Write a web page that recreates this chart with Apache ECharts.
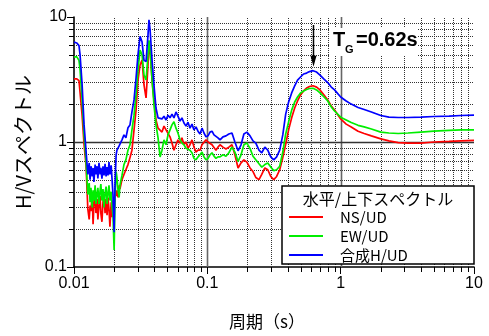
<!DOCTYPE html>
<html>
<head>
<meta charset="utf-8">
<script src="https://cdn.jsdelivr.net/npm/echarts@6/dist/echarts.min.js"></script>
<style>
html,body{margin:0;padding:0;background:#fff;}
#chart{width:489px;height:336px;}
</style>
</head>
<body>
<div id="chart"></div>
<script>
// ---- data ----
const periods = [
0.0100,0.0105,0.0109,0.0111,0.0115,0.0119,0.0123,0.0127,0.0130,0.0132,
0.0134,0.0137,0.0139,0.0141,0.0144,0.0146,0.0149,0.0151,0.0154,0.0157,
0.0159,0.0162,0.0165,0.0168,0.0171,0.0174,0.0177,0.0180,0.0183,0.0186,
0.0190,0.0193,0.0196,0.0200,0.0203,0.0207,0.0210,0.0214,0.0218,0.0221,
0.0229,0.0237,0.0245,0.0254,0.0263,0.0272,0.0282,0.0292,0.0302,0.0313,
0.0324,0.0335,0.0347,0.0359,0.0365,0.0372,0.0385,0.0398,0.0412,0.0427,
0.0442,0.0457,0.0473,0.0490,0.0507,0.0525,0.0543,0.0562,0.0582,0.0602,
0.0624,0.0645,0.0668,0.0692,0.0716,0.0741,0.0767,0.0794,0.0822,0.0851,
0.0881,0.0912,0.0944,0.0977,0.1012,0.1047,0.1084,0.1122,0.1161,0.1202,
0.1245,0.1310,0.1380,0.1450,0.1530,0.1610,0.1700,0.1790,0.1880,0.1980,
0.2090,0.2200,0.2310,0.2440,0.2560,0.2700,0.2840,0.2990,0.3150,0.3310,
0.3490,0.3680,0.3870,0.4070,0.4290,0.4520,0.4750,0.5000,0.5270,0.5550,
0.5840,0.6200,0.6600,0.7000,0.7500,0.8000,0.8500,0.9000,1.0,1.1,
1.2,1.35,1.5,1.7,2.0,2.3,2.7,3.2,4.0,5.0,
6.5,8.0,10.0
];
const nsUD = [
3.2,3.2,3.1,2.5,1.64,0.95,0.66,0.29,0.24,0.31,
0.28,0.38,0.22,0.31,0.40,0.27,0.35,0.24,0.31,0.37,
0.27,0.23,0.33,0.38,0.27,0.35,0.26,0.36,0.29,0.21,
0.33,0.25,0.34,0.28,0.36,0.38,0.41,0.36,0.45,0.42,
0.50,0.55,0.60,0.66,0.75,0.86,1.25,1.80,3.13,4.13,
4.53,2.86,2.25,4.13,6.0,5.44,3.13,2.17,1.50,1.29,
1.32,1.20,1.34,1.25,1.29,1.10,0.98,0.86,0.95,1.04,
0.98,1.08,0.95,1.00,0.89,0.95,1.04,0.91,0.83,0.86,
0.86,0.95,0.98,1.04,1.00,1.00,0.95,0.93,0.86,0.91,
0.95,0.91,0.88,0.91,0.95,0.79,0.62,0.68,0.72,0.69,
0.62,0.58,0.52,0.50,0.55,0.62,0.60,0.53,0.50,0.53,
0.60,0.75,0.96,1.25,1.56,1.87,2.13,2.38,2.56,2.70,
2.78,2.82,2.75,2.61,2.38,2.17,1.94,1.80,1.53,1.39,
1.32,1.22,1.17,1.12,1.06,1.02,0.99,0.98,0.98,1.00,
1.01,1.02,1.03
];
const ewUD = [
4.8,4.8,4.5,3.8,2.17,1.14,0.72,0.38,0.47,0.33,
0.43,0.30,0.41,0.34,0.45,0.32,0.39,0.43,0.32,0.41,
0.46,0.34,0.42,0.30,0.39,0.44,0.32,0.39,0.45,0.34,
0.40,0.30,0.26,0.137,0.34,0.58,0.52,0.41,0.36,0.45,
0.54,0.66,0.72,0.86,0.95,1.25,1.64,2.38,3.77,5.44,
4.97,3.44,3.13,4.97,6.5,5.6,3.13,1.98,1.37,1.08,
0.76,0.86,1.04,0.95,1.14,1.25,1.37,1.45,1.29,1.18,
1.04,0.98,0.95,0.89,0.92,0.86,0.82,0.74,0.72,0.76,
0.79,0.83,0.76,0.72,0.74,0.79,0.82,0.77,0.74,0.76,
0.76,0.79,0.77,0.82,0.91,0.83,0.70,0.79,0.95,0.98,
0.89,0.77,0.72,0.67,0.63,0.66,0.68,0.63,0.59,0.60,
0.64,0.83,1.16,1.45,1.80,2.09,2.29,2.47,2.56,2.63,
2.68,2.69,2.61,2.47,2.29,2.13,1.91,1.77,1.58,1.50,
1.43,1.36,1.32,1.27,1.20,1.18,1.17,1.18,1.20,1.22,
1.24,1.25,1.25
];
const hUD = [
6.3,6.2,5.9,5.0,2.9,1.37,0.86,0.55,0.68,0.50,
0.64,0.53,0.62,0.48,0.66,0.55,0.64,0.51,0.68,0.55,
0.62,0.51,0.64,0.54,0.67,0.53,0.63,0.54,0.69,0.55,
0.65,0.50,0.38,0.19,0.45,0.79,0.86,0.83,0.93,0.95,
1.04,1.14,1.08,1.30,1.37,1.74,2.17,3.25,5.0,7.0,
6.3,4.5,4.4,7.2,9.5,7.9,4.5,2.85,1.87,1.56,
1.58,1.53,1.61,1.50,1.64,1.56,1.67,1.56,1.74,1.61,
1.47,1.56,1.42,1.34,1.44,1.29,1.39,1.25,1.32,1.22,
1.16,1.29,1.18,1.10,1.12,1.20,1.22,1.14,1.10,1.08,
1.04,1.10,1.12,1.16,1.18,1.00,0.85,0.95,1.16,1.20,
1.12,1.02,0.98,0.86,0.82,0.91,0.86,0.76,0.72,0.76,
0.86,1.14,1.67,2.09,2.47,2.81,3.13,3.31,3.50,3.56,
3.66,3.72,3.63,3.43,3.19,2.99,2.75,2.61,2.29,2.13,
2.01,1.89,1.82,1.74,1.63,1.58,1.57,1.57,1.58,1.60,
1.61,1.63,1.64
];
const seriesNames = ['NS/UD','EW/UD','合成H/UD'];
const xTickLabels = ['0.01','0.1','1','10'];
const yTickLabels = ['0.1','1','10'];
const xMinor = [0.02,0.03,0.04,0.05,0.06,0.07,0.08,0.09,0.2,0.3,0.4,0.5,0.6,0.7,0.8,0.9,2,3,4,5,6,7,8,9];
const yMinor = [0.2,0.3,0.4,0.5,0.6,0.7,0.8,0.9,2,3,4,5,6,7,8,9];
const xMajorGrid = [0.1,1];
const yMajorGrid = [1];
const tgPeriod = 0.62;
const tgPeakValue = 3.72;

const X_MIN = Number(xTickLabels[0]), X_MAX = Number(xTickLabels[xTickLabels.length-1]);
const Y_MIN = Number(yTickLabels[0]), Y_MAX = Number(yTickLabels[yTickLabels.length-1]);

const chart = echarts.init(document.getElementById('chart'), null, {renderer:'canvas'});
const latin = 'Liberation Sans, Arial, sans-serif';
const cjk = '"Noto Sans CJK JP", "Liberation Sans", sans-serif';

function pairs(vals){ return periods.map((p,i)=>[p, vals[i]]); }
function fmt(list){ return function(v){ for (const s of list){ if (Math.abs(Math.log10(Number(s)) - Math.log10(v)) < 1e-6) return s; } return ''; }; }
function crisp(v){ return Math.round(v) + 0.5; }

function gridRender(dir, major){
  return function(params, api){
    const v = api.value(dir === 'x' ? 0 : 1);
    let a, b;
    if (dir === 'x'){ a = api.coord([v, Y_MIN]); b = api.coord([v, Y_MAX]); a[0] = b[0] = crisp(a[0]); }
    else { a = api.coord([X_MIN, v]); b = api.coord([X_MAX, v]); a[1] = b[1] = crisp(a[1]); }
    const children = [{
      type:'line',
      shape:{x1:a[0], y1:a[1], x2:b[0], y2:b[1]},
      style: major ? {stroke: dir==='x' ? '#666' : '#333', lineWidth: 1.6}
                   : {stroke:'#333', lineWidth:1, lineDash:[1,1]}
    }];
    if (!major){
      if (dir === 'x') children.push({type:'line', shape:{x1:a[0], y1:a[1], x2:a[0], y2:a[1]+5}, style:{stroke:'#000', lineWidth:1}});
      else children.push({type:'line', shape:{x1:a[0], y1:a[1], x2:a[0]-5, y2:a[1]}, style:{stroke:'#000', lineWidth:1}});
    }
    return {type:'group', children};
  };
}

const colors = ['#ff0000','#00ee00','#0000ff'];
const lineSeries = [nsUD, ewUD, hUD].map((vals, i) => ({
  name: seriesNames[i], type:'line', data: pairs(vals),
  symbol:'none', showSymbol:false, smooth:false,
  lineStyle:{color:colors[i], width:1.7}, itemStyle:{color:colors[i]},
  z: 5 + i, animation:false
}));

const option = {
  animation:false,
  backgroundColor:'#fff',
  grid:{left:74, top:17, right:15, bottom:69, containLabel:false},
  xAxis:{
    type:'log', logBase:10, min:X_MIN, max:X_MAX,
    name:'周期（s）', nameLocation:'middle', nameGap:46,
    nameTextStyle:{fontFamily:cjk, fontSize:17, color:'#000', padding:[0,14,0,0]},
    axisLine:{show:true, onZero:false, lineStyle:{color:'#000', width:1.6}},
    axisTick:{show:true, inside:false, length:7, lineStyle:{color:'#000', width:1}},
    axisLabel:{formatter:fmt(xTickLabels), fontFamily:latin, fontSize:16, color:'#000', margin:9},
    splitLine:{show:false}, minorTick:{show:false}
  },
  yAxis:{
    type:'log', logBase:10, min:Y_MIN, max:Y_MAX,
    name:'H/Vスペクトル', nameLocation:'middle', nameGap:34, nameRotate:90,
    nameTextStyle:{fontFamily:cjk, fontSize:20, color:'#000'},
    axisLine:{show:true, onZero:false, lineStyle:{color:'#000', width:1.6}},
    axisTick:{show:true, inside:false, length:7, lineStyle:{color:'#000', width:1}},
    axisLabel:{formatter:fmt(yTickLabels), fontFamily:latin, fontSize:16, color:'#000', margin:7},
    splitLine:{show:false}, minorTick:{show:false}
  },
  legend:{
    data: seriesNames, orient:'vertical', left:289, top:209,
    icon:'rect', itemWidth:34, itemHeight:2, itemGap:3, padding:0,
    textStyle:{fontFamily:cjk, fontSize:15, lineHeight:16, color:'#000', padding:[0,0,0,12]},
    selectedMode:false, z:30
  },
  series: [
    {type:'custom', name:'gx', data:xMinor.map(v=>[v,1]), renderItem:gridRender('x',false), z:1, silent:true, animation:false},
    {type:'custom', name:'gy', data:yMinor.map(v=>[1,v]), renderItem:gridRender('y',false), z:1, silent:true, animation:false},
    {type:'custom', name:'gX', data:xMajorGrid.map(v=>[v,1]), renderItem:gridRender('x',true), z:2, silent:true, animation:false},
    {type:'custom', name:'gY', data:yMajorGrid.map(v=>[1,v]), renderItem:gridRender('y',true), z:2, silent:true, animation:false}
  ].concat(lineSeries)
};
chart.setOption(option);

// annotation + legend box placed via the chart's own coordinate conversion
const peak = chart.convertToPixel({gridIndex:0}, [tgPeriod, tgPeakValue]);
const px = crisp(peak[0]);
chart.setOption({
  graphic:[
    {type:'rect', z:20, shape:{x:282, y:186, width:192, height:78}, style:{fill:'#fff', stroke:'#000', lineWidth:1.5}},
    {type:'text', z:21, style:{x:378, y:199, text:'水平/上下スペクトル', font:'16px "Noto Sans CJK JP"', fill:'#000', textAlign:'center', textVerticalAlign:'middle'}},
    {type:'line', z:21, shape:{x1:px, y1:25, x2:px, y2:peak[1]-14}, style:{stroke:'#000', lineWidth:1.5}},
    {type:'polygon', z:21, shape:{points:[[px-3,peak[1]-15],[px+3,peak[1]-15],[px,peak[1]-4]]}, style:{fill:'#000'}},
    {type:'rect', z:19, shape:{x:330, y:28, width:88, height:28}, style:{fill:'#fff'}},
    {type:'text', z:21, style:{x:333, y:40, text:'T', font:'bold 20px "Liberation Sans", Arial', fill:'#000', textVerticalAlign:'middle'}},
    {type:'text', z:21, style:{x:345, y:50, text:'G', font:'bold 11px "Liberation Sans", Arial', fill:'#000', textVerticalAlign:'middle'}},
    {type:'text', z:21, style:{x:356, y:40, text:'=0.62s', font:'bold 20px "Liberation Sans", Arial', fill:'#000', textVerticalAlign:'middle'}}
  ]
});
</script>
</body>
</html>
